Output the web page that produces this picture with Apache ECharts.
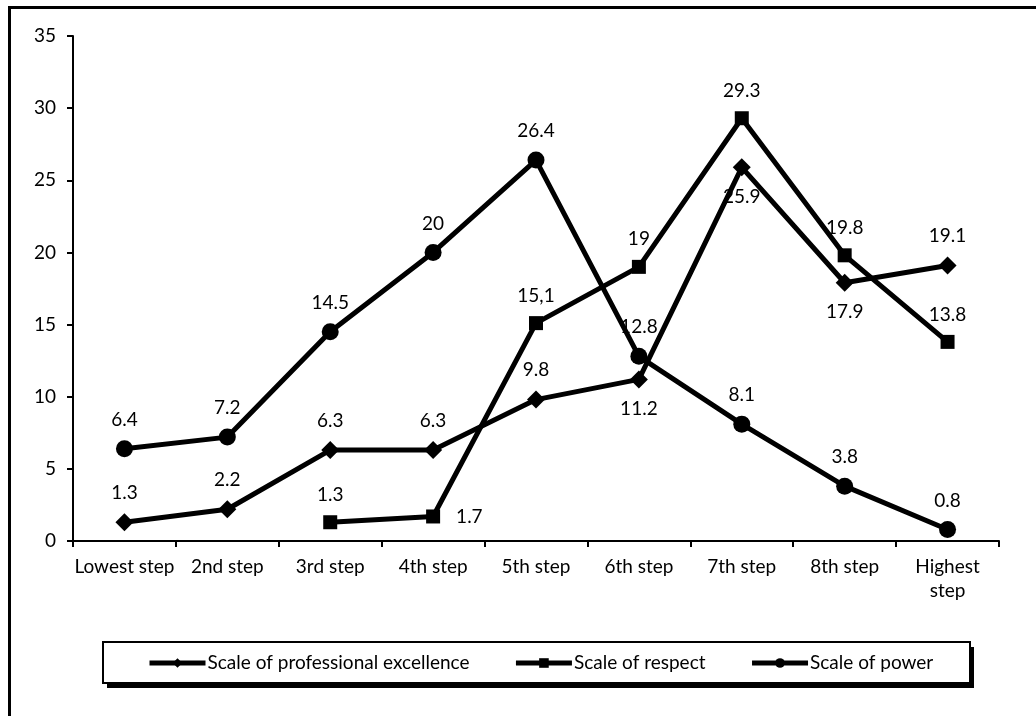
<!DOCTYPE html>
<html>
<head>
<meta charset="utf-8">
<script src="https://cdn.jsdelivr.net/npm/echarts@6/dist/echarts.min.js"></script>
<style>
  html, body { margin: 0; padding: 0; background: #fff; }
  #chart { width: 1036px; height: 716px; }
</style>
</head>
<body>
<div id="chart"></div>
<script>
// Steps of each scale
const categories = ['Lowest step', '2nd step', '3rd step', '4th step', '5th step',
  '6th step', '7th step', '8th step', 'Highest\nstep'];

// Percentages per step
const professionalExcellence = [1.3, 2.2, 6.3, 6.3, 9.8, 11.2, 25.9, 17.9, 19.1];
const respect = [null, null, 1.3, 1.7, 15.1, 19, 29.3, 19.8, 13.8];
const power = [6.4, 7.2, 14.5, 20, 26.4, 12.8, 8.1, 3.8, 0.8];

// Printed label texts (the respect series uses a decimal comma at the 5th step)
const respectLabelText = [null, null, '1.3', '1.7', '15,1', '19', '29.3', '19.8', '13.8'];

// Label placement for each point
const excellencePos = ['top', 'top', 'top', 'top', 'top', 'bottom', 'bottom', 'bottom', 'top'];
const respectPos = ['top', 'top', 'top', 'right', 'top', 'top', 'top', 'top', 'top'];
const powerPos = ['top', 'top', 'top', 'top', 'top', 'top', 'top', 'top', 'top'];

const FONT = 'Lato, "Open Sans", sans-serif';
const FS = 19;

function buildData(values, positions, texts) {
  return values.map((v, i) => {
    if (v === null) return null;
    const pos = positions[i];
    return {
      value: v,
      label: {
        position: pos,
        distance: pos === 'right' ? 16 : 11,
        formatter: texts ? texts[i] : String(v)
      }
    };
  });
}

function lineSeries(name, symbol, size, data) {
  return {
    name: name,
    type: 'line',
    symbol: symbol,
    symbolSize: size,
    connectNulls: false,
    data: data,
    lineStyle: { color: '#000', width: 5 },
    itemStyle: { color: '#000' },
    label: { show: true, color: '#000', fontSize: FS, fontFamily: FONT },
    emphasis: { disabled: true },
    animation: false
  };
}

const chart = echarts.init(document.getElementById('chart'), null, { renderer: 'canvas' });

// legend box with its offset drop shadow
const box = { x: 103, y: 642, w: 867, h: 41 };

chart.setOption({
  backgroundColor: '#fff',
  animation: false,
  textStyle: { fontFamily: FONT, color: '#000' },
  graphic: [
    // outer frame, top and left edges
    { type: 'line', shape: { x1: 8, y1: 7.5, x2: 1036, y2: 7.5 }, style: { stroke: '#000', lineWidth: 3 } },
    { type: 'line', shape: { x1: 9.5, y1: 6, x2: 9.5, y2: 716 }, style: { stroke: '#000', lineWidth: 3 } },
    { type: 'rect', z: -1, shape: { x: box.x + 4, y: box.y + 5, width: box.w, height: box.h }, style: { fill: '#000' } },
    { type: 'rect', z: 0, shape: { x: box.x, y: box.y, width: box.w, height: box.h }, style: { fill: '#fff', stroke: '#000', lineWidth: 2 } }
  ],
  grid: { left: 73, right: 37, top: 36, bottom: 175 },
  xAxis: {
    type: 'category',
    data: categories,
    boundaryGap: true,
    axisLine: { lineStyle: { color: '#000', width: 2 } },
    axisTick: { show: true, length: 6, lineStyle: { color: '#000', width: 2 } },
    axisLabel: { color: '#000', fontSize: FS, fontFamily: FONT, margin: 14, interval: 0, lineHeight: 24 }
  },
  yAxis: {
    type: 'value',
    min: 0,
    max: 35,
    interval: 5,
    splitLine: { show: false },
    axisLine: { show: true, lineStyle: { color: '#000', width: 2 } },
    axisTick: { show: true, length: 6, lineStyle: { color: '#000', width: 2 } },
    axisLabel: { color: '#000', fontSize: FS, fontFamily: FONT, margin: 17 }
  },
  legend: {
    left: 147,
    top: 652,
    z: 5,
    orient: 'horizontal',
    padding: 0,
    itemGap: 44,
    itemWidth: 56,
    itemHeight: 12,
    lineStyle: { width: 5 },
    textStyle: { color: '#000', fontSize: FS, fontFamily: FONT, lineHeight: 22, padding: [0, 0, 0, -3] },
    data: ['Scale of professional excellence', 'Scale of respect', 'Scale of power']
  },
  series: [
    lineSeries('Scale of professional excellence', 'diamond', 18, buildData(professionalExcellence, excellencePos)),
    lineSeries('Scale of respect', 'rect', 14, buildData(respect, respectPos, respectLabelText)),
    lineSeries('Scale of power', 'circle', 17, buildData(power, powerPos))
  ]
});
</script>
</body>
</html>
